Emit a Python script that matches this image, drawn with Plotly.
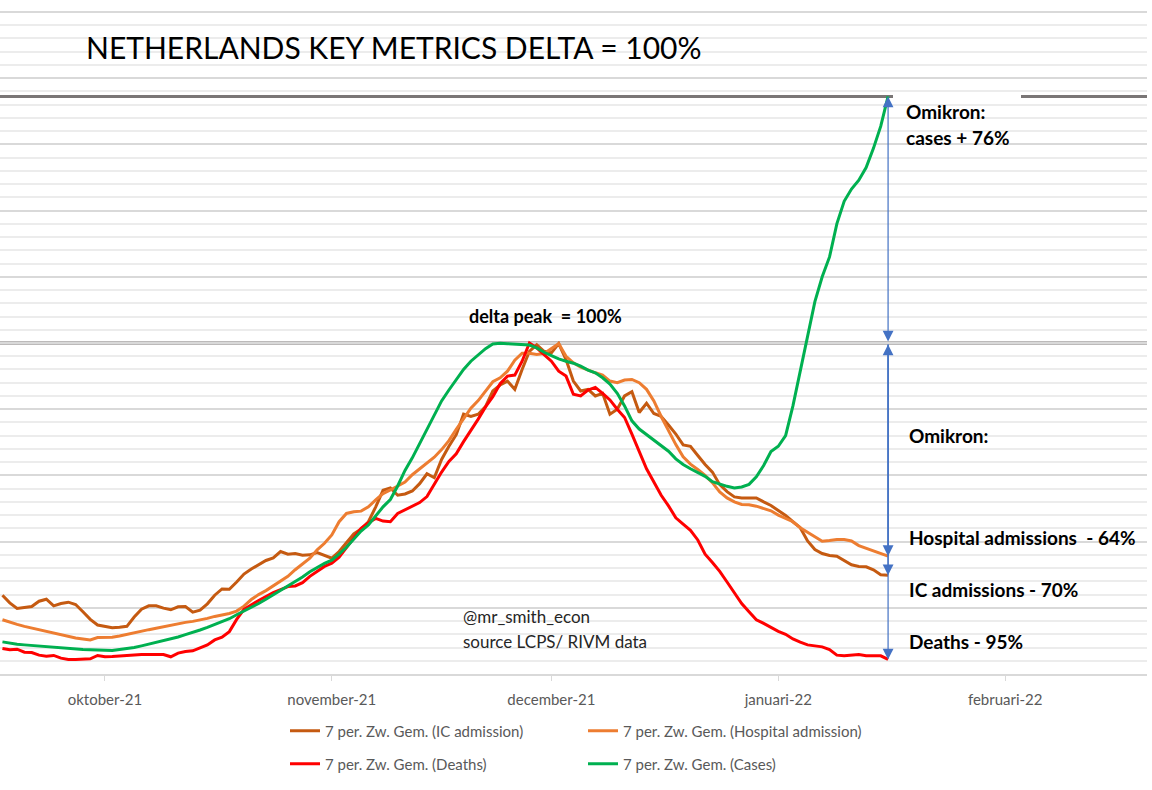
import pandas as pd
import plotly.graph_objects as go

# ---------------- data (normalised, delta peak = 100) ----------------
DATES = pd.date_range("2021-09-17", "2022-01-16", freq="D")

IC_ADMISSION = [
    23.8, 21.5, 19.8, 20.0, 20.4, 22.0, 22.6, 20.6, 21.3, 21.7,
    21.0, 18.8, 16.5, 14.8, 14.3, 14.0, 14.1, 14.4, 17.2, 19.6,
    20.6, 20.6, 19.9, 19.4, 20.3, 20.4, 18.7, 19.3, 21.2, 23.8,
    25.7, 25.6, 27.8, 30.2, 31.7, 33.0, 34.3, 35.1, 37.0, 36.2,
    36.4, 35.9, 36.0, 36.7, 35.9, 35.0, 37.0, 39.8, 42.3, 43.8,
    46.0, 50.5, 55.5, 56.2, 54.0, 54.4, 55.3, 57.5, 60.5, 59.3,
    64.8, 68.8, 72.3, 78.5, 77.8, 78.5, 80.8, 85.5, 87.3, 88.5,
    86.0, 92.0, 97.5, 99.5, 97.5, 97.0, 99.8, 95.0, 88.5, 85.5,
    86.0, 84.0, 84.8, 78.5, 80.0, 84.0, 85.3, 79.0, 81.8, 78.7,
    77.8, 75.2, 72.5, 69.2, 68.8, 66.0, 63.3, 61.0, 57.2, 55.1,
    53.5, 53.2, 53.3, 53.2, 52.0, 50.9, 49.4, 47.9, 46.0, 44.2,
    40.2, 37.6, 36.4, 35.8, 35.6, 34.3, 33.0, 32.5, 32.4, 31.5,
    30.0, 29.8,
]
HOSPITAL_ADMISSION = [
    16.4, 15.6, 15.0, 14.4, 13.9, 13.5, 12.9, 12.3, 11.8, 11.3,
    10.9, 10.6, 10.3, 11.0, 11.1, 11.1, 11.5, 12.0, 12.6, 13.0,
    13.4, 13.8, 14.3, 14.8, 15.3, 15.6, 15.9, 16.3, 16.8, 17.4,
    17.8, 18.3, 19.0, 20.5, 22.5, 24.0, 25.2, 26.7, 28.0, 29.5,
    31.5, 33.2, 35.0, 37.5, 39.5, 42.0, 46.0, 48.5, 49.0, 49.2,
    50.5, 52.6, 54.5, 55.6, 56.7, 58.0, 60.2, 62.0, 63.7, 65.5,
    67.8, 70.5, 73.9, 77.3, 80.3, 82.6, 85.3, 88.3, 89.5, 91.5,
    94.8, 96.9, 96.9, 96.5, 96.8, 98.2, 99.8, 96.0, 94.0, 92.7,
    91.8, 91.0, 90.3, 88.5, 88.0, 88.8, 89.0, 88.0, 86.0, 82.5,
    77.8, 73.5, 69.3, 65.6, 63.4, 61.8, 60.0, 57.8, 55.0, 53.2,
    52.0, 51.2, 51.1, 50.7, 50.0, 49.3, 48.0, 47.0, 46.0, 44.2,
    42.8, 41.3, 40.1, 40.3, 40.6, 40.6, 40.2, 38.8, 38.0, 37.4,
    36.5, 35.6,
]
DEATHS = [
    7.7, 7.3, 7.5, 6.6, 6.5, 5.7, 5.4, 5.6, 4.8, 4.4,
    4.4, 4.4, 4.6, 5.6, 5.2, 5.3, 5.5, 5.6, 5.8, 5.9,
    5.9, 5.9, 5.9, 5.2, 6.3, 6.8, 7.0, 7.9, 8.8, 10.3,
    11.1, 12.8, 16.5, 19.5, 20.9, 22.2, 23.4, 24.6, 25.5, 26.4,
    26.6, 27.6, 29.5, 31.0, 32.5, 33.5, 35.3, 38.2, 41.0, 44.0,
    45.7, 47.0, 46.2, 46.0, 48.5, 49.6, 50.5, 51.8, 53.6, 57.3,
    61.0, 64.2, 66.5, 70.2, 73.5, 77.0, 80.7, 83.8, 87.7, 90.0,
    90.3, 94.5, 100.0, 98.5, 96.5, 94.5, 91.5, 90.0, 84.5, 84.0,
    85.8, 86.6, 84.8, 82.8, 80.0, 77.5, 72.5, 67.3, 62.0, 58.0,
    54.0, 50.8, 47.2, 45.3, 43.4, 40.5, 36.2, 33.7, 31.0, 27.8,
    24.5, 21.3, 18.8, 16.4, 15.3, 14.1, 12.9, 12.0, 10.6, 9.6,
    8.8, 8.5, 8.2, 7.4, 5.7, 5.5, 5.6, 5.9, 5.5, 5.6,
    5.5, 4.4,
]
CASES = [
    9.7, 9.3, 9.0, 8.8, 8.6, 8.4, 8.2, 8.0, 7.8, 7.6,
    7.5, 7.4, 7.3, 7.2, 7.1, 7.1, 7.4, 7.6, 8.0, 8.5,
    9.0, 9.5, 10.1, 10.6, 11.2, 11.9, 12.5, 13.3, 14.1, 15.0,
    15.7, 16.7, 17.9, 19.0, 20.2, 21.3, 22.6, 23.9, 25.2, 26.5,
    27.8, 29.3, 30.9, 32.2, 33.4, 34.4, 36.2, 38.3, 40.7, 43.2,
    45.0, 47.9, 50.5, 52.7, 56.8, 61.5, 65.3, 69.6, 74.0, 78.2,
    82.5, 85.8, 89.0, 92.0, 94.5, 96.5, 98.3, 99.7, 99.9, 99.8,
    99.6, 99.4, 99.4, 98.5, 97.2, 96.2, 95.2, 94.5, 93.9, 93.0,
    91.8, 91.0, 89.5, 87.6, 84.8, 81.0, 76.5, 74.0, 72.3, 70.6,
    69.0, 67.3, 65.0, 63.3, 62.0, 60.8, 59.7, 58.1, 57.3, 56.7,
    56.2, 56.5, 57.3, 59.6, 63.0, 67.2, 68.8, 72.0, 81.0, 91.5,
    102.0, 112.5, 120.0, 126.0, 136.0, 142.8, 146.5, 149.2, 153.0, 158.8,
    165.5, 174.5,
]

SERIES_NAMES = [
    "7 per. Zw. Gem. (IC admission)",
    "7 per. Zw. Gem. (Hospital admission)",
    "7 per. Zw. Gem. (Deaths)",
    "7 per. Zw. Gem. (Cases)",
]
TICK_DATES = ["2021-10-01", "2021-11-01", "2021-12-01", "2022-01-01", "2022-02-01"]
TICK_LABELS = ["oktober-21", "november-21", "december-21", "januari-22", "februari-22"]

TITLE = "NETHERLANDS KEY METRICS DELTA = 100%"
PEAK_LABEL = "delta peak  = 100%"
CREDIT_1 = "@mr_smith_econ"
CREDIT_2 = "source LCPS/ RIVM data"
OMIKRON_1 = "Omikron:"
OMIKRON_CASES = "cases + 76%"
OMIKRON = "Omikron:"
HOSP_LABEL = "Hospital admissions  - 64%"
IC_LABEL = "IC admissions - 70%"
DEATHS_LABEL = "Deaths - 95%"

# ---------------- styling / layout helpers ----------------
W, H = 1152, 790
ML, MR, MT, MB = 0, 5, 0, 116
PW, PH = W - ML - MR, H - MT - MB
FONT = "Lato, 'Liberation Sans', Arial, sans-serif"


def px(x):
    return (x - ML) / PW


def py(y):
    return (H - MB - y) / PH


COLORS = ["#C55A11", "#ED7D31", "#FF0000", "#00B050"]
values = [IC_ADMISSION, HOSPITAL_ADMISSION, DEATHS, CASES]
legend_ids = ["legend", "legend", "legend2", "legend2"]

fig = go.Figure()
for name, vals, col, lg in zip(SERIES_NAMES, values, COLORS, legend_ids):
    fig.add_trace(go.Scatter(
        x=DATES, y=vals, name=name, mode="lines",
        line=dict(color=col, width=3), legend=lg, hoverinfo="skip",
    ))

last = DATES[-1]
top_val = CASES[-1]

shapes = [
    dict(type="line", xref="paper", yref="y", x0=0, x1=1, y0=100, y1=100,
         line=dict(color="#7a7676", width=3), layer="between"),
    dict(type="line", xref="paper", yref="y", x0=0, x1=1, y0=top_val, y1=top_val,
         line=dict(color="#7a7676", width=3), layer="between"),
]
# white text boxes (hide gridlines)
for (x0, y0, x1, y1) in [(72, 16, 716, 71), (455, 296, 634, 337), (448, 599, 666, 661),
                         (893, 89, 1021, 157), (893, 413, 1152, 667)]:
    shapes.append(dict(type="rect", xref="paper", yref="paper",
                       x0=px(x0), x1=px(x1), y0=py(y1), y1=py(y0),
                       fillcolor="white", line=dict(width=0), layer="between"))

bold = dict(family=FONT, size=19, color="#000000", weight=700)
annotations = [
    dict(text=TITLE, x=px(84), y=py(47), xanchor="left", yanchor="middle",
         font=dict(family=FONT, size=30, color="#000000")),
    dict(text=PEAK_LABEL, x=px(545), y=py(316), xanchor="center", yanchor="middle",
         font=dict(family=FONT, size=18, color="#000000", weight=700)),
    dict(text=CREDIT_1, x=px(461), y=py(616), xanchor="left", yanchor="middle",
         font=dict(family=FONT, size=17, color="#262626")),
    dict(text=CREDIT_2, x=px(461), y=py(641), xanchor="left", yanchor="middle",
         font=dict(family=FONT, size=17, color="#262626")),
    dict(text=OMIKRON_1, x=px(904), y=py(112), xanchor="left", yanchor="middle", font=bold),
    dict(text=OMIKRON_CASES, x=px(904), y=py(138), xanchor="left", yanchor="middle", font=bold),
    dict(text=OMIKRON, x=px(907), y=py(435), xanchor="left", yanchor="middle", font=bold),
    dict(text=HOSP_LABEL, x=px(907), y=py(537), xanchor="left", yanchor="middle", font=bold),
    dict(text=IC_LABEL, x=px(907), y=py(589), xanchor="left", yanchor="middle", font=bold),
    dict(text=DEATHS_LABEL, x=px(907), y=py(641), xanchor="left", yanchor="middle", font=bold),
]
for a in annotations:
    a.update(xref="paper", yref="paper", showarrow=False)

arrow = dict(xref="x", yref="y", axref="x", ayref="y", showarrow=True, text="",
             arrowcolor="#4472C4", arrowwidth=1.2, arrowhead=2, startarrowhead=2,
             arrowsize=1.8, startarrowsize=1.8, standoff=0, startstandoff=0)
annotations += [
    dict(arrow, x=last, y=top_val, ax=last, ay=100, arrowside="end+start"),
    dict(arrow, x=last, y=HOSPITAL_ADMISSION[-1], ax=last, ay=100, arrowside="end+start"),
    dict(arrow, x=last, y=IC_ADMISSION[-1], ax=last, ay=100, arrowside="end"),
    dict(arrow, x=last, y=DEATHS[-1], ax=last, ay=100, arrowside="end"),
]

legend_common = dict(orientation="h", xanchor="left", yanchor="middle",
                     x=px(285), entrywidth=253, entrywidthmode="pixels",
                     font=dict(family=FONT, size=15, color="#595959"),
                     bgcolor="rgba(0,0,0,0)", itemclick=False, itemdoubleclick=False)

fig.update_layout(
    width=W, height=H,
    margin=dict(l=ML, r=MR, t=MT, b=MB, autoexpand=False),
    paper_bgcolor="white", plot_bgcolor="white",
    showlegend=True,
    legend=dict(legend_common, y=py(731)),
    legend2=dict(legend_common, y=py(764)),
    shapes=shapes,
    annotations=annotations,
    xaxis=dict(
        type="date",
        range=["2021-09-16 16:00", "2022-02-20 09:00"],
        tickvals=TICK_DATES, ticktext=TICK_LABELS,
        showgrid=False, zeroline=False,
        showline=True, linecolor="#d9d9d9", linewidth=1.5,
        ticks="outside", ticklen=5, tickcolor="#d9d9d9", tickwidth=1,
        ticklabelstandoff=6,
        tickfont=dict(family=FONT, size=15, color="#595959"),
    ),
    yaxis=dict(
        range=[0, PH / 3.31],
        tick0=0, dtick=20, showticklabels=False, ticks="",
        showgrid=True, gridcolor="#d9d9d9", gridwidth=1.5,
        zeroline=False, showline=False,
        minor=dict(dtick=4, showgrid=True, gridcolor="#ececec", gridwidth=1.5),
    ),
)

fig.write_html("out.html", config={"displayModeBar": False},
               post_script="document.body.style.margin='0';")
